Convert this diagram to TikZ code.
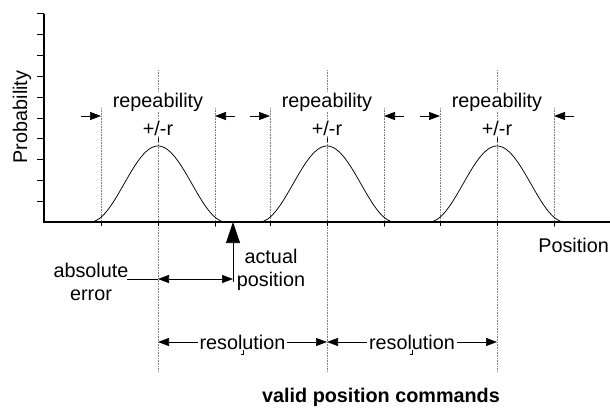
\documentclass[tikz,border=0pt]{standalone}
\usepackage{fontspec}
\setmainfont{Liberation Sans}
\usetikzlibrary{arrows.meta}
\begin{document}
\begin{tikzpicture}[x=1pt,y=-1pt,
  lbl/.style={font=\fontsize{19.8}{23}\selectfont, inner sep=1pt},
  axisline/.style={line width=1.3pt},
  guide/.style={densely dotted, gray, line width=0.6pt},
  bell/.style={line width=0.75pt},
  arr/.style={line width=0.7pt, -{Triangle[length=11pt,width=8pt]}},
  dimarr/.style={line width=0.7pt, {Triangle[length=11pt,width=8pt]}-{Triangle[length=11pt,width=8pt]}},
  tick/.style={line width=1pt}]
\useasboundingbox (0,0) rectangle (610,412);

% axes
\coordinate (origin) at (44,222);
\coordinate (ytop) at (44,14);
\coordinate (xend) at (610,222);
\draw[axisline] (ytop) -- (origin) -- (xend);
\foreach \k in {0,...,9}
  \draw[tick] (37,{14+\k*20.8}) -- (44,{14+\k*20.8});
\node[lbl, rotate=90] (ylab) at (22,117) {Probability};
\node[lbl, anchor=east, inner xsep=0pt] (xlab) at (609,245) {Position};

% three probability peaks
\foreach \c/\i in {158/1,327/2,497/3}{
  \coordinate (pk\i) at (\c,146);
  \coordinate (lo\i) at ({\c-57},222);
  \coordinate (hi\i) at ({\c+57},222);
  % guides
  \draw[guide] (\c,70) -- (\c,372);
  \draw[guide] ({\c-57},108) -- ({\c-57},226);
  \draw[guide] ({\c+57},108) -- ({\c+57},227);
  % small ticks under the axis
  \foreach \dx in {-57,0,57}
    \draw[tick] ({\c+\dx},222) -- ({\c+\dx},226);
  % bell curve
  \draw[bell] plot[domain=-66:66, samples=80, smooth] ({\c+\x},{222-38*(1+cos(\x*180/68))});
  % labels
  \node[lbl, fill=white] (rep\i) at (\c,102) {repeability};
  \node[lbl, fill=white] (pm\i) at (\c,128) {+/-r};
  \draw[line width=0.9pt] (\c,138) -- (\c,142);
  % repeatability limit arrows
  \coordinate (la\i) at ({\c-77},116);
  \coordinate (ra\i) at ({\c+77},116);
  \draw[arr] (la\i) -- ({\c-57},116);
  \draw[arr] (ra\i) -- ({\c+57},116);
}

% actual position marker
\coordinate (act) at (233,222);
\coordinate (actbase) at (233,282);
\draw[line width=0.7pt, -{Triangle[length=21pt,width=14pt]}] (actbase) -- (act);
\node[lbl, align=center] (actlab) at (271,270) {actual\\position};

% absolute error
\node[lbl, align=center] (abslab) at (91,282) {absolute\\error};
\coordinate (errL) at (158,279);
\coordinate (errR) at (233,279);
\draw[line width=1pt] (127,279) -- (errL);
\draw[dimarr] (errL) -- (errR);

% resolution dimensions
\coordinate (r1) at (158,342);
\coordinate (r2) at (327,342);
\coordinate (r3) at (497,342);
\draw[dimarr] (r1) -- node[lbl, fill=white, inner xsep=2pt] (res1) {resolution} (r2);
\draw[dimarr] (r2) -- node[lbl, fill=white, inner xsep=2pt] (res2) {resolution} (r3);
\foreach \x in {243,412}
  \draw[line width=0.8pt] (\x-2,354) -- (\x,354) -- (\x,350);

\node[font=\fontsize{19.8}{23}\selectfont\bfseries] (valid) at (381,397) {valid position commands};
\end{tikzpicture}
\end{document}
